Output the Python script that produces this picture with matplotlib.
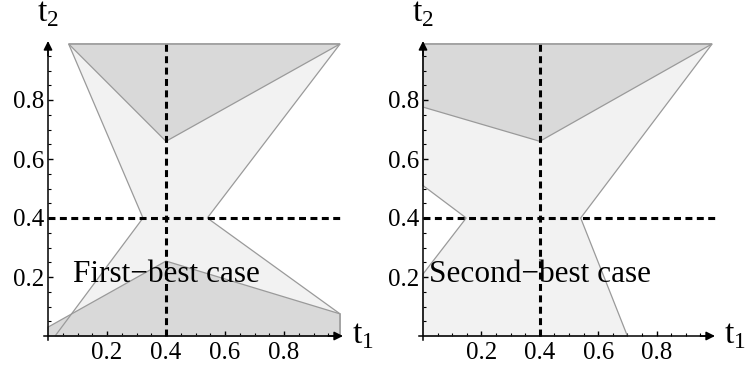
import matplotlib
matplotlib.use("Agg")
import matplotlib.pyplot as plt
from matplotlib.patches import Polygon
from matplotlib.ticker import FixedLocator

plt.rcParams['font.family'] = ['Liberation Serif', 'DejaVu Serif']
plt.rcParams['mathtext.fontset'] = 'custom'
plt.rcParams['mathtext.rm'] = 'Liberation Serif'
plt.rcParams['lines.scale_dashes'] = False

# region outlines (t1, t2)
fb_top_x = [0.07, 0.99, 0.40]
fb_top_y = [0.99, 0.99, 0.66]
fb_mid_x = [0.07, 0.99, 0.54, 0.99, 0.99, 0.024, 0.322]
fb_mid_y = [0.99, 0.99, 0.40, 0.075, 0.0, 0.0, 0.40]
fb_bot_x = [0.0, 0.0, 0.40, 0.99, 0.99]
fb_bot_y = [0.0, 0.03, 0.254, 0.075, 0.0]

sb_top_x = [0.0, 0.99, 0.40, 0.0]
sb_top_y = [0.99, 0.99, 0.66, 0.776]
sb_mid_x = [0.0, 0.99, 0.54, 0.70, 0.0, 0.0, 0.148, 0.0]
sb_mid_y = [0.99, 0.99, 0.40, 0.0, 0.0, 0.21, 0.40, 0.51]

ticks = [0.2, 0.4, 0.6, 0.8]
minor_ticks = [0.05, 0.1, 0.15, 0.25, 0.3, 0.35, 0.45, 0.5, 0.55,
               0.65, 0.7, 0.75, 0.85, 0.9, 0.95]
cut = 0.4

dark = '#d9d9d9'
light = '#f2f2f2'
edge = '#9a9a9a'

fig = plt.figure(figsize=(7.52, 3.72), dpi=100)


def make_axes(rect, x0px, scale):
    # x0px: pixel position of t1 = 0 inside the panel
    ax = fig.add_axes(rect)
    ax.set_xlim((0 - x0px) / scale, (376 - x0px) / scale)
    ax.set_ylim((336 - 372) / 295, 336 / 295)
    for s in ['top', 'right']:
        ax.spines[s].set_visible(False)
    ax.spines['left'].set_position(('data', 0))
    ax.spines['bottom'].set_position(('data', 0))
    ax.spines['left'].set_bounds(-0.015, 0.97)
    ax.spines['bottom'].set_bounds(-0.015, 0.97)
    for s in ['left', 'bottom']:
        ax.spines[s].set_linewidth(1.1)
        ax.spines[s].set_zorder(6)
    ax.patch.set_visible(False)
    ax.set_xticks(ticks)
    ax.set_yticks(ticks)
    ax.set_xticklabels([str(t) for t in ticks])
    ax.set_yticklabels([str(t) for t in ticks])
    ax.xaxis.set_minor_locator(FixedLocator(minor_ticks))
    ax.yaxis.set_minor_locator(FixedLocator(minor_ticks))
    ax.tick_params(which='major', direction='in', length=3.5, width=1, labelsize=18)
    ax.tick_params(which='minor', direction='in', length=2, width=0.8)
    ax.tick_params(axis='x', which='major', pad=4)
    ax.tick_params(axis='y', which='major', pad=3)
    ax.annotate('', xy=(1.0, 0), xytext=(0.95, 0),
                arrowprops=dict(arrowstyle='-|>', color='black', lw=1.1, mutation_scale=13,
                                shrinkA=0, shrinkB=0), zorder=7)
    ax.annotate('', xy=(0, 1.0), xytext=(0, 0.95),
                arrowprops=dict(arrowstyle='-|>', color='black', lw=1.1, mutation_scale=13,
                                shrinkA=0, shrinkB=0), zorder=7)
    ax.text(1.03, 0.0, r'$\mathrm{t}_1$', fontsize=24, ha='left', va='center')
    ax.text(0.0, 1.04, r'$\mathrm{t}_2$', fontsize=24, ha='center', va='bottom')
    return ax


def add_region(ax, xs, ys, color):
    pts = list(zip(xs, ys))
    ax.add_patch(Polygon(pts, closed=True, facecolor=color, edgecolor='none', zorder=1))
    ax.add_patch(Polygon(pts, closed=True, fill=False, edgecolor=edge, lw=0.9, zorder=3))


def add_cuts(ax):
    ax.plot([cut, cut], [0, 1.0], color='black', lw=2.2, dashes=(5, 3.2), zorder=5)
    ax.plot([0, 1.0], [cut, cut], color='black', lw=2.2, dashes=(5, 3.2), zorder=5)


ax1 = make_axes([0, 0, 0.5, 1], 48, 295)
add_region(ax1, fb_mid_x, fb_mid_y, light)
add_region(ax1, fb_top_x, fb_top_y, dark)
add_region(ax1, fb_bot_x, fb_bot_y, dark)
ax1.text(0.4, 0.21, 'First\u2212best case', fontsize=22.5, ha='center', va='center', zorder=4)
add_cuts(ax1)

ax2 = make_axes([0.5, 0, 0.5, 1], 423 - 376, 292)
add_region(ax2, sb_mid_x, sb_mid_y, light)
add_region(ax2, sb_top_x, sb_top_y, dark)
ax2.text(0.4, 0.21, 'Second\u2212best case', fontsize=22.5, ha='center', va='center', zorder=4)
add_cuts(ax2)

fig.savefig('out.png', dpi=100)
